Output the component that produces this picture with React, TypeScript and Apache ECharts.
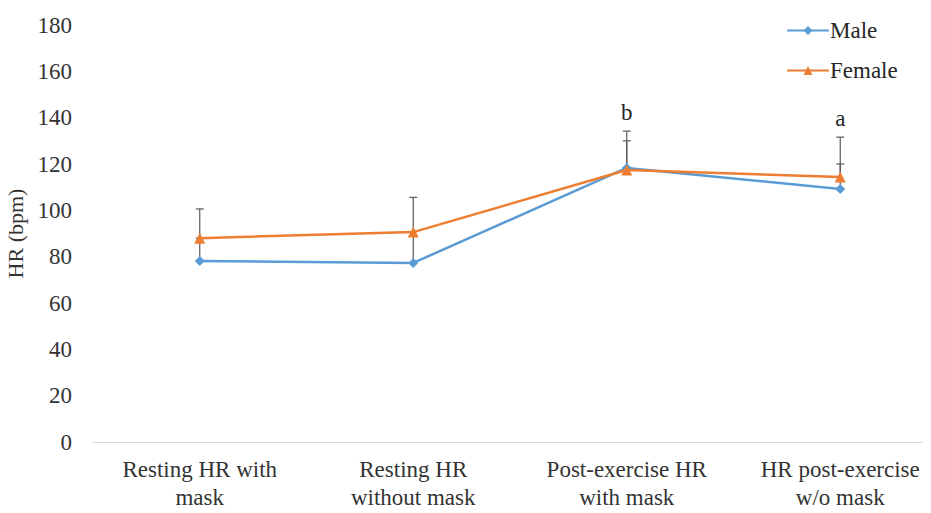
import React, { useEffect, useRef } from "react";
import * as echarts from "echarts";

const categories = [
  "Resting HR with\nmask",
  "Resting HR\nwithout mask",
  "Post-exercise HR\nwith mask",
  "HR post-exercise\nw/o mask",
];
const maleValues = [78.1, 77.3, 118.3, 109.2];
const femaleValues = [88.0, 90.6, 117.4, 114.4];
const maleErrorTop = [88.0, 89.0, 130.0, 131.6];
const femaleErrorTop = [100.6, 105.6, 134.2, 120.0];
const annotations = ["", "", "b", "a"];
const yTicks = { min: 0, max: 180, interval: 20 };

const FONT = "Liberation Serif";
const TEXT = "#333333";

export default function App() {
  const ref = useRef<HTMLDivElement>(null);
  useEffect(() => {
    if (!ref.current) return;
    const chart = echarts.init(ref.current, undefined, { renderer: "svg" });

    const errData = (vals: number[], tops: number[]) =>
      vals.map((v, i) => [i, v, tops[i]]);

    const errorRender = (withLabel: boolean) => (params: any, api: any) => {
      const i = api.value(0);
      const lo = api.coord([i, api.value(1)]);
      const hi = api.coord([i, api.value(2)]);
      const children: any[] = [
        {
          type: "line",
          shape: { x1: lo[0], y1: lo[1], x2: hi[0], y2: hi[1] },
          style: { stroke: "#595959", lineWidth: 1.2 },
        },
        {
          type: "line",
          shape: { x1: hi[0] - 4, y1: hi[1], x2: hi[0] + 4, y2: hi[1] },
          style: { stroke: "#595959", lineWidth: 1.2 },
        },
      ];
      if (withLabel && annotations[i]) {
        const topVal = Math.max(maleErrorTop[i], femaleErrorTop[i]);
        const p = api.coord([i, topVal]);
        children.push({
          type: "text",
          x: p[0],
          y: p[1] - 7,
          style: {
            text: annotations[i],
            fill: "#262626",
            fontFamily: FONT,
            fontSize: 23,
            align: "center",
            verticalAlign: "bottom",
          },
        });
      }
      return { type: "group", children };
    };

    chart.setOption({
      animation: false,
      backgroundColor: "#ffffff",
      grid: {
        left: 93,
        right: 0,
        top: 25,
        bottom: 71,
        containLabel: false,
        outerBoundsMode: "none",
      },
      legend: {
        orient: "vertical",
        left: 781,
        top: 14,
        itemWidth: 42,
        itemHeight: 11,
        itemGap: 17,
        textStyle: { fontFamily: FONT, fontSize: 23, color: "#262626", padding: [0, 0, 0, -4] },
        data: ["Male", "Female"],
      },
      xAxis: {
        type: "category",
        data: categories,
        axisLine: { lineStyle: { color: "#d9d9d9", width: 1 } },
        axisTick: { show: false },
        axisLabel: {
          interval: 0,
          margin: 13,
          fontFamily: FONT,
          fontSize: 23,
          lineHeight: 28,
          color: TEXT,
        },
      },
      yAxis: {
        type: "value",
        min: yTicks.min,
        max: yTicks.max,
        interval: yTicks.interval,
        name: "HR (bpm)",
        nameLocation: "middle",
        nameGap: 58,
        nameTextStyle: { fontFamily: FONT, fontSize: 22, color: TEXT },
        axisLine: { show: false },
        axisTick: { show: false },
        splitLine: { show: false },
        axisLabel: { fontFamily: FONT, fontSize: 23, color: TEXT, margin: 21 },
      },
      series: [
        {
          type: "custom",
          name: "maleErr",
          renderItem: errorRender(false),
          data: errData(maleValues, maleErrorTop),
          z: 1,
          silent: true,
        },
        {
          type: "custom",
          name: "femaleErr",
          renderItem: errorRender(true),
          data: errData(femaleValues, femaleErrorTop),
          z: 1,
          silent: true,
        },
        {
          name: "Male",
          type: "line",
          data: maleValues,
          symbol: "diamond",
          symbolSize: 10,
          lineStyle: { color: "#5B9BD5", width: 2.5 },
          itemStyle: { color: "#5B9BD5" },
          z: 3,
        },
        {
          name: "Female",
          type: "line",
          data: femaleValues,
          symbol: "triangle",
          symbolSize: 11,
          lineStyle: { color: "#ED7D31", width: 2.5 },
          itemStyle: { color: "#ED7D31" },
          z: 4,
        },
      ],
    });
    return () => chart.dispose();
  }, []);
  return (
    <div style={{ width: 931, height: 513, margin: -8, overflow: "hidden" }}>
      <div ref={ref} style={{ width: 947, height: 513 }} />
    </div>
  );
}
